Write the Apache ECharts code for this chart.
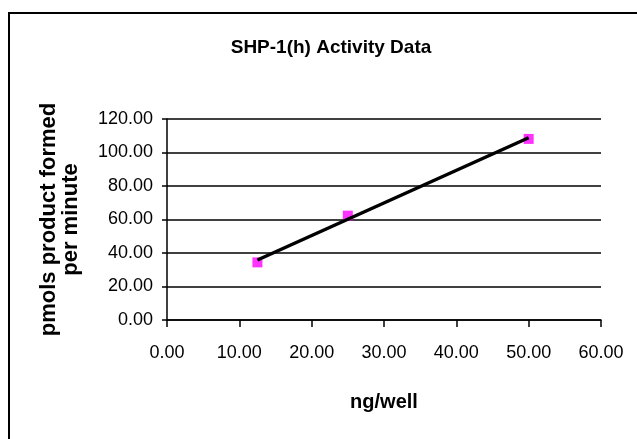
<!DOCTYPE html>
<html>
<head>
<meta charset="utf-8">
<script src="https://cdn.jsdelivr.net/npm/echarts@6/dist/echarts.min.js"></script>
<style>html,body{margin:0;padding:0;background:#fff;}#c{width:637px;height:439px;}</style>
</head>
<body>
<div id="c"></div>
<script>
var titleText = 'SHP-1(h) Activity Data';
var xName = 'ng/well';
var yName = 'pmols product formed\nper minute';
var xValues = [12.5, 25, 50];
var yValues = [34.4, 62.3, 108.1];
var xTicks = [0, 10, 20, 30, 40, 50, 60];
var yTicks = [0, 20, 40, 60, 80, 100, 120];

// linear trendline (least squares) from the data
var n = xValues.length, mx = 0, my = 0;
for (var i = 0; i < n; i++) { mx += xValues[i]; my += yValues[i]; }
mx /= n; my /= n;
var sxx = 0, sxy = 0;
for (var i = 0; i < n; i++) { sxx += (xValues[i]-mx)*(xValues[i]-mx); sxy += (xValues[i]-mx)*(yValues[i]-my); }
var slope = sxy / sxx, icpt = my - slope * mx;
var xMin = Math.min.apply(null, xValues), xMax = Math.max.apply(null, xValues);
var trend = [[xMin, icpt + slope * xMin], [xMax, icpt + slope * xMax]];

var points = xValues.map(function (x, i) { return [x, yValues[i]]; });
var FONT = '"Liberation Sans", Arial, sans-serif';

var chart = echarts.init(document.getElementById('c'), null, {renderer: 'canvas'});
chart.setOption({
  backgroundColor: '#fff',
  animation: false,
  title: {
    text: titleText,
    left: 326, top: 33, textAlign: 'center',
    textStyle: {fontFamily: FONT, fontWeight: 'bold', fontSize: 19, color: '#000'}
  },
  graphic: [{
    type: 'rect', shape: {x: 9, y: 13, width: 700, height: 500},
    style: {fill: null, stroke: '#000', lineWidth: 2}, silent: true, z: -1
  }],
  grid: {left: 167, right: 36, top: 119, bottom: 119, containLabel: false},
  xAxis: {
    type: 'value', min: xTicks[0], max: xTicks[xTicks.length-1], interval: 10,
    name: xName, nameLocation: 'middle', nameGap: 72,
    nameTextStyle: {fontFamily: FONT, fontWeight: 'bold', fontSize: 20, color: '#000', verticalAlign: 'top'},
    axisLine: {show: true, onZero: false, lineStyle: {color: '#000', width: 1.5}},
    axisTick: {show: true, length: 7, lineStyle: {color: '#000', width: 1.5}},
    axisLabel: {fontFamily: FONT, fontSize: 18, color: '#000', margin: 24,
      formatter: function (v) { return v.toFixed(2); }},
    splitLine: {show: false}
  },
  yAxis: {
    type: 'value', min: yTicks[0], max: yTicks[yTicks.length-1], interval: 20,
    name: yName, nameLocation: 'middle', nameGap: 85, nameRotate: 90,
    nameTextStyle: {fontFamily: FONT, fontWeight: 'bold', fontSize: 22, color: '#000', lineHeight: 22},
    axisLine: {show: true, lineStyle: {color: '#000', width: 1.5}},
    axisTick: {show: true, length: 5, lineStyle: {color: '#000', width: 1.5}},
    axisLabel: {fontFamily: FONT, fontSize: 18, color: '#000', margin: 14,
      formatter: function (v) { return v.toFixed(2); }},
    splitLine: {show: true, lineStyle: {color: '#000', width: 1.5}}
  },
  series: [{
    type: 'scatter', data: points, symbol: 'rect', symbolSize: 10,
    itemStyle: {color: '#ff00ff'}, z: 2
  }, {
    type: 'line', data: trend, symbol: 'none', lineStyle: {color: '#000', width: 3.5}, z: 3
  }]
});
</script>
</body>
</html>
